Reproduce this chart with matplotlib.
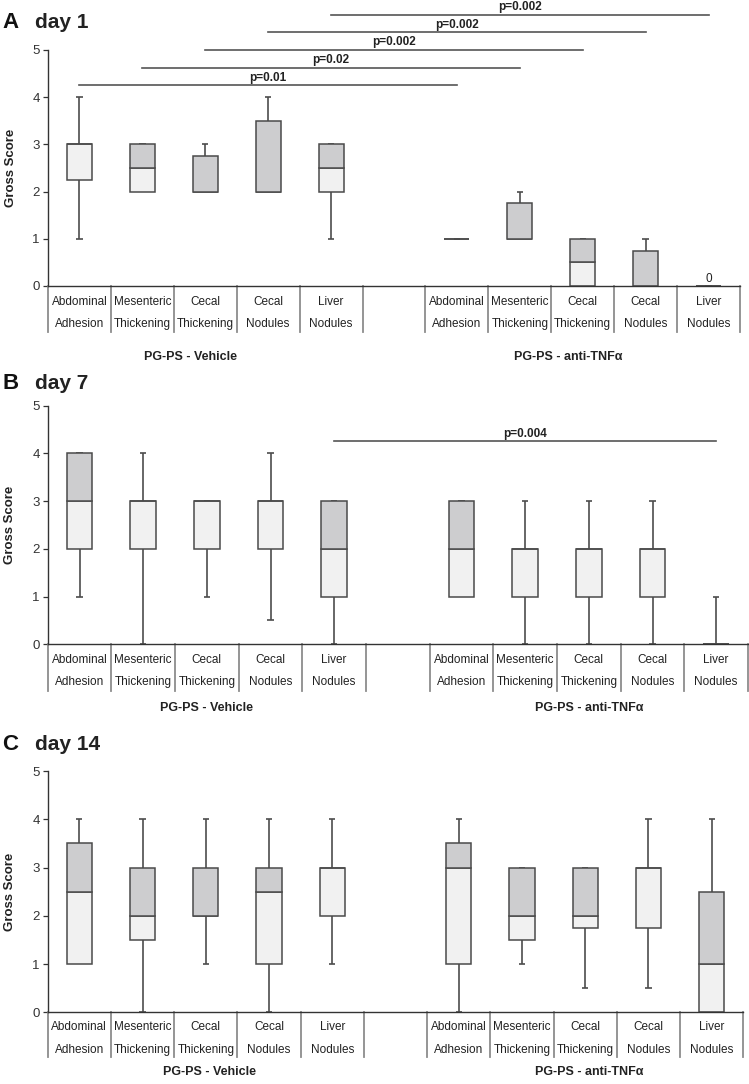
import matplotlib
matplotlib.use('Agg')
import matplotlib.pyplot as plt
import numpy as np

plt.rcParams['font.family'] = ['Liberation Sans', 'DejaVu Sans']

# ---------------- data ----------------
cat_line1 = ['Abdominal', 'Mesenteric', 'Cecal', 'Cecal', 'Liver']
cat_line2 = ['Adhesion', 'Thickening', 'Thickening', 'Nodules', 'Nodules']
groups = ['PG-PS - Vehicle', 'PG-PS - anti-TNF\u03b1']
y_ticks = [0, 1, 2, 3, 4, 5]
panel_letters = ['A', 'B', 'C']
panel_days = ['day 1', 'day 7', 'day 14']

# order: 5 vehicle categories, then 5 anti-TNFa categories
d1_lo = [1, 2, 2, 2, 1, 1, 1, 0, 0, 0]
d1_q1 = [2.25, 2, 2, 2, 2, 1, 1, 0, 0, 0]
d1_med = [3, 2.5, 2, 2, 2.5, 1, 1, 0.5, 0, 0]
d1_q3 = [3, 3, 2.75, 3.5, 3, 1, 1.75, 1, 0.75, 0]
d1_hi = [4, 3, 3, 4, 3, 1, 2, 1, 1, 0]

d7_lo = [1, 0, 1, 0.5, 0, 1, 0, 0, 0, 0]
d7_q1 = [2, 2, 2, 2, 1, 1, 1, 1, 1, 0]
d7_med = [3, 3, 3, 3, 2, 2, 2, 2, 2, 0]
d7_q3 = [4, 3, 3, 3, 3, 3, 2, 2, 2, 0]
d7_hi = [4, 4, 3, 4, 3, 3, 3, 3, 3, 1]

d14_lo = [1, 0, 1, 0, 1, 0, 1, 0.5, 0.5, 0]
d14_q1 = [1, 1.5, 2, 1, 2, 1, 1.5, 1.75, 1.75, 0]
d14_med = [2.5, 2, 2, 2.5, 3, 3, 2, 2, 3, 1]
d14_q3 = [3.5, 3, 3, 3, 3, 3.5, 3, 3, 3, 2.5]
d14_hi = [4, 4, 4, 4, 4, 4, 3, 3, 4, 4]

# (category a, category b, height, label)
d1_brackets = [(0, 5, 4.25, 'p=0.01'), (1, 6, 4.625, 'p=0.02'),
               (2, 7, 5.0, 'p=0.002'), (3, 8, 5.375, 'p=0.002'),
               (4, 9, 5.75, 'p=0.002')]
d7_brackets = [(4, 9, 4.25, 'p=0.004')]
d14_brackets = []

d1_value_labels = [(9, '0')]
d7_value_labels = []
d14_value_labels = []

# ---------------- layout ----------------
W, H = 749, 1084
fig = plt.figure(figsize=(W / 100, H / 100), dpi=100)

# pixel geometry per panel: left, right, y0 pixel, y5 pixel
geo = [(48, 740, 286, 50), (47.7, 748, 644.3, 405.7), (47.7, 743.3, 1012.3, 771)]
title_base = [27.5, 389, 750]
row_px = [(16, 38), (16, 38), (15, 38)]
div_px = [46, 47, 45]
grp_px = [71, 64, 60]
grp_shift = [-0.23, 0.0, 0.06]

LIGHT = '#f1f1f1'
DARK = '#cdcdcf'
EDGE = '#4a4a4a'
WHISK = '#4d4d4d'

panels = [
    (d1_lo, d1_q1, d1_med, d1_q3, d1_hi, d1_brackets, d1_value_labels),
    (d7_lo, d7_q1, d7_med, d7_q3, d7_hi, d7_brackets, d7_value_labels),
    (d14_lo, d14_q1, d14_med, d14_q3, d14_hi, d14_brackets, d14_value_labels),
]

for p, (lo, q1, med, q3, hi, brackets, vlabels) in enumerate(panels):
    left, right, y0, y5 = geo[p]
    ax = fig.add_axes([left / W, 1 - y0 / H, (right - left) / W, (y0 - y5) / H])
    h_px = y0 - y5
    ax.set_xlim(0, 11)
    ax.set_ylim(0, 5)
    for s in ['top', 'right']:
        ax.spines[s].set_visible(False)
    for s in ['left', 'bottom']:
        ax.spines[s].set_color('#333333')
        ax.spines[s].set_linewidth(1.0)
    ax.set_xticks([])
    ax.set_yticks(y_ticks)
    ax.tick_params(axis='y', direction='out', length=3.8, width=0.9, color='#333333',
                   pad=2, labelsize=9.5, labelcolor='#333333')
    ax.set_ylabel('Gross Score', fontsize=9.5, fontweight='bold', color='#222222')
    ax.yaxis.set_label_coords(-0.045, 0.5)

    n = len(q1)
    x = np.array([i + 0.5 if i < 5 else i + 1.5 for i in range(n)])
    bw = 0.4
    cw = 0.1
    lo_a, q1_a, med_a, q3_a, hi_a = map(np.array, (lo, q1, med, q3, hi))
    for xi, l, a, b, hh in zip(x, lo_a, q1_a, q3_a, hi_a):
        if hh > b:
            ax.vlines(xi, b, hh, color=WHISK, lw=1.2, zorder=1)
        ax.hlines(hh, xi - cw / 2, xi + cw / 2, color=WHISK, lw=1.2, zorder=1)
        if l < a:
            ax.vlines(xi, l, a, color=WHISK, lw=1.2, zorder=1)
            ax.hlines(l, xi - cw / 2, xi + cw / 2, color=WHISK, lw=1.2, zorder=1)
    ax.bar(x, med_a - q1_a, bottom=q1_a, width=bw, color=LIGHT, edgecolor=EDGE,
           linewidth=1.1, zorder=2)
    ax.bar(x, q3_a - med_a, bottom=med_a, width=bw, color=DARK, edgecolor=EDGE,
           linewidth=1.1, zorder=2)

    for idx, lab in vlabels:
        ax.annotate(lab, (x[idx], hi_a[idx]), xytext=(0, 1), textcoords='offset points',
                    ha='center', va='bottom', fontsize=8.5, color='#222222')

    for a, b, yv, lab in brackets:
        ax.plot([x[a], x[b]], [yv, yv], color='#555555', lw=1.2, clip_on=False)
        ax.annotate(lab, ((x[a] + x[b]) / 2, yv), xytext=(0, 1.2),
                    textcoords='offset points', ha='center', va='bottom',
                    fontsize=8.5, fontweight='bold', color='#222222',
                    annotation_clip=False)

    xt = ax.get_xaxis_transform()
    for k in range(12):
        ax.plot([k, k], [0, -div_px[p] / h_px], transform=xt, clip_on=False,
                color='#8c8c8c', lw=1.3)
    for i in range(n):
        ax.text(x[i], -row_px[p][0] / h_px, cat_line1[i % 5], transform=xt,
                ha='center', va='center', fontsize=8.5, color='#222222')
        ax.text(x[i], -row_px[p][1] / h_px, cat_line2[i % 5], transform=xt,
                ha='center', va='center', fontsize=8.5, color='#222222')
    ax.text(2.5 + grp_shift[p], -grp_px[p] / h_px, groups[0], transform=xt,
            ha='center', va='center', fontsize=9, fontweight='bold', color='#222222')
    ax.text(8.5 + grp_shift[p], -grp_px[p] / h_px, groups[1], transform=xt,
            ha='center', va='center', fontsize=9, fontweight='bold', color='#222222')

    fig.text(2 / W, 1 - title_base[p] / H, panel_letters[p], fontsize=16,
             fontweight='bold', va='baseline', ha='left', color='#111111')
    fig.text(35 / W, 1 - title_base[p] / H, panel_days[p], fontsize=15,
             fontweight='bold', va='baseline', ha='left', color='#222222')

fig.savefig('out.png', dpi=100)
